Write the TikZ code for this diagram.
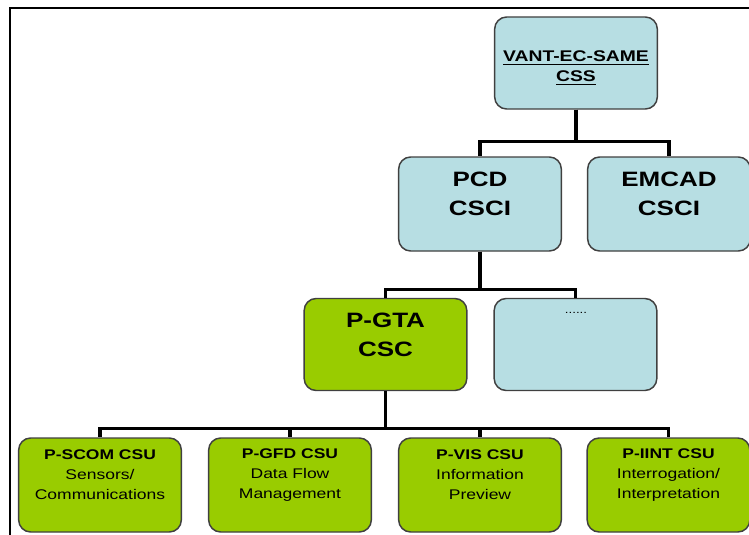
\documentclass[tikz,border=0pt]{standalone}
\usepackage{fontspec}
\setmainfont{Liberation Sans}[FakeStretch=1.25]
\definecolor{unitblue}{RGB}{183,222,227}
\definecolor{unitgreen}{RGB}{153,204,0}
\tikzset{every picture/.style={line width=0.75pt}}
\tikzset{
	unitbox/.style={draw=black!75, line width=1.1pt, rounded corners=9pt, minimum width=122pt, minimum height=69pt, inner sep=0pt},
	bluebox/.style={unitbox, fill=unitblue},
	greenbox/.style={unitbox, fill=unitgreen},
	bigtitle/.style={align=center, inner sep=0pt, font=\fontsize{15.6}{22}\selectfont\bfseries},
	toptitle/.style={align=center, inner sep=0pt, font=\fontsize{11.6}{15}\selectfont\bfseries},
	unittitle/.style={align=center, inner sep=0pt, font=\fontsize{10.5}{15}\selectfont},
	bus/.style={line width=2.5pt},
}
\begin{document}
\begin{tikzpicture}[x=0.75pt,y=0.75pt,yscale=-1,xscale=1]
	\useasboundingbox (0,0) rectangle (749,535);

	%Frame
	\draw [line width=1.5pt] (10,540) -- (10,8) -- (755,8) ;

	%Boxes
	\node [bluebox] (css) at (576,63) {};
	\node [bluebox, minimum height=70.5pt] (pcd) at (480,204) {};
	\node [bluebox, minimum height=70.5pt] (emcad) at (669,204) {};
	\node [greenbox] (pgta) at (385.5,344.5) {};
	\node [bluebox] (more) at (575.5,344.5) {};
	\node [greenbox, minimum height=70.5pt] (pscom) at (100,485) {};
	\node [greenbox, minimum height=70.5pt] (pgfd) at (290,485) {};
	\node [greenbox, minimum height=70.5pt] (pvis) at (480,485) {};
	\node [greenbox, minimum height=70.5pt] (piint) at (668.5,485) {};

	%Connectors
	\draw [bus] (css.south) -- ++(0,32) -| (pcd.north) ;
	\draw [bus] (css.south) -- ++(0,32) -| (emcad.north) ;
	\draw [bus] (pcd.south) -- ++(0,38) -| (pgta.north) ;
	\draw [bus] (pcd.south) -- ++(0,38) -| (more.north) ;
	\foreach \u in {pscom,pgfd,pvis,piint}
		\draw [bus] (pgta.south) -- ++(0,37) -| (\u.north) ;

	% Text Node
	\node [toptitle] (css-t) at (576,68) {\underline{VANT-EC-SAME}\\\underline{CSS}};
	% Text Node
	\node [bigtitle] (pcd-t) at (480,194) {PCD\\CSCI};
	% Text Node
	\node [bigtitle] (emcad-t) at (669,194) {EMCAD\\CSCI};
	% Text Node
	\node [bigtitle] (pgta-t) at (385.5,335) {P-GTA\\CSC};
	% Text Node
	\node [font=\fontsize{8}{9}\selectfont] (more-t) at (576,313) {......};
	% Text Node
	\node [unittitle] (pscom-t) at (100,475) {\textbf{P-SCOM CSU}\\Sensors/\\Communications};
	% Text Node
	\node [unittitle] (pgfd-t) at (290,475) {\textbf{P-GFD CSU}\\Data Flow\\Management};
	% Text Node
	\node [unittitle] (pvis-t) at (480,475) {\textbf{P-VIS CSU}\\Information\\Preview};
	% Text Node
	\node [unittitle] (piint-t) at (668.5,475) {\textbf{P-IINT CSU}\\Interrogation/\\Interpretation};

\end{tikzpicture}
\end{document}
